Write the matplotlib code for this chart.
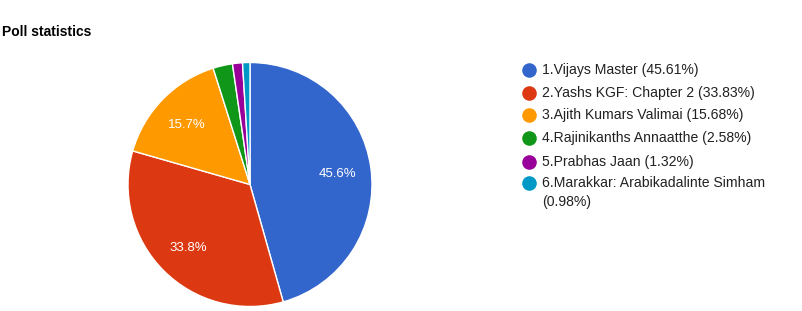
import matplotlib
matplotlib.use("Agg")
import matplotlib.pyplot as plt

labels = ["1.Vijays Master", "2.Yashs KGF: Chapter 2", "3.Ajith Kumars Valimai",
          "4.Rajinikanths Annaatthe", "5.Prabhas Jaan", "6.Marakkar: Arabikadalinte Simham"]
values = [45.61, 33.83, 15.68, 2.58, 1.32, 0.98]
colors = ["#3366cc", "#dc3912", "#ff9900", "#109618", "#990099", "#0099c6"]
title = "Poll statistics"

W, H = 802, 311
fig = plt.figure(figsize=(W / 100, H / 100), dpi=100)
ax = fig.add_axes([0, 0, 1, 1])
ax.set_xlim(0, W)
ax.set_ylim(0, H)
ax.set_aspect("equal")
ax.axis("off")

def Y(y):
    return H - y

def pct(p):
    return f"{p:.1f}%" if p >= 5 else ""

FONT = "Liberation Sans"

wedges, texts, autotexts = ax.pie(
    values, colors=colors, startangle=90, counterclock=False,
    center=(250, Y(184.5)), radius=122, autopct=pct, pctdistance=0.72,
    wedgeprops=dict(edgecolor="white", linewidth=1),
    textprops=dict(color="white", fontsize=9.5, family=FONT),
)
for t in autotexts:
    t.set_va("center_baseline")
ax.set_xlim(0, W)
ax.set_ylim(0, H)

fig.text(2 / W, 1 - 36 / H, title, fontsize=10, fontweight="bold",
         family=FONT, va="baseline", ha="left", color="#000000")

rows_y = [69.7, 92.7, 115, 138.3, 161.7, 183.3]
for i, (lab, v, c) in enumerate(zip(labels, values, colors)):
    y = rows_y[i]
    ax.scatter([529], [Y(y)], s=110, color=c, zorder=5, linewidths=0)
    if i < 5:
        ax.text(542, Y(y), f"{lab} ({v:.2f}%)", fontsize=10.1, family=FONT,
                color="#222222", va="center", ha="left")
    else:
        ax.text(542, Y(y), lab, fontsize=10.1, family=FONT,
                color="#222222", va="center", ha="left")
        ax.text(542, Y(y + 19), f"({v:.2f}%)", fontsize=10.1, family=FONT,
                color="#222222", va="center", ha="left")

fig.savefig("out.png", dpi=100, facecolor="white")
